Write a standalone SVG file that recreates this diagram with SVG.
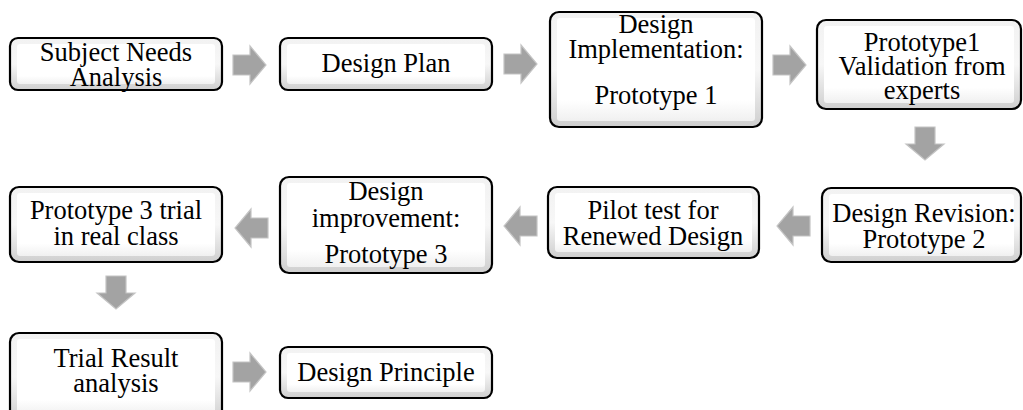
<svg xmlns="http://www.w3.org/2000/svg" width="1023" height="410" viewBox="0 0 1023 410">
<defs>
<linearGradient id="bev" x1="0" y1="0" x2="0" y2="1">
<stop offset="0" stop-color="#f2f2f2"/>
<stop offset="0.5" stop-color="#f7f7f7"/>
<stop offset="1" stop-color="#cfcfcf"/>
</linearGradient>
<linearGradient id="face" x1="0" y1="0" x2="0" y2="1">
<stop offset="0" stop-color="#ffffff"/>
<stop offset="0.8" stop-color="#ffffff"/>
<stop offset="1" stop-color="#f0f0f0"/>
</linearGradient>
<path id="ar" d="M0,-10 H17 V-19 L33,0 L17,19 V10 H0 Z"/>
</defs>
<style>
.frame{fill:url(#bev);stroke:#000;stroke-width:2.2}
.face{fill:url(#face);stroke:none}
.t{font-family:"Liberation Serif","Times New Roman",serif;font-size:26.5px;fill:#000;text-anchor:middle}
.arrow{fill:#a3a3a3;stroke:#c4c4c4;stroke-width:1.2}
</style>
<rect width="1023" height="410" fill="#fff"/>

<g id="connectors">
<use href="#ar" class="arrow" transform="translate(233,65)"/>
<use href="#ar" class="arrow" transform="translate(504,64)"/>
<use href="#ar" class="arrow" transform="translate(773,65)"/>
<use href="#ar" class="arrow" transform="translate(925,127) rotate(90)"/>
<use href="#ar" class="arrow" transform="translate(810,226) rotate(180)"/>
<use href="#ar" class="arrow" transform="translate(537,226) rotate(180)"/>
<use href="#ar" class="arrow" transform="translate(268,228) rotate(180)"/>
<use href="#ar" class="arrow" transform="translate(116,276) rotate(90)"/>
<use href="#ar" class="arrow" transform="translate(233,372)"/>
</g>

<g id="n1">
<rect class="frame" x="10" y="38" width="212" height="52" rx="8"/>
<rect class="face" x="17" y="44" width="198" height="40" rx="3"/>
<text class="t" x="116" y="61">Subject Needs</text>
<text class="t" x="116" y="86">Analysis</text>
</g>
<g id="n2">
<rect class="frame" x="280" y="38" width="212" height="52" rx="8"/>
<rect class="face" x="287" y="44" width="198" height="40" rx="3"/>
<text class="t" x="386" y="72">Design Plan</text>
</g>
<g id="n3">
<rect class="frame" x="550" y="12" width="212" height="115" rx="9"/>
<rect class="face" x="557" y="18" width="198" height="103" rx="3"/>
<text class="t" x="656" y="33">Design</text>
<text class="t" x="656" y="58">Implementation:</text>
<text class="t" x="656" y="104">Prototype 1</text>
</g>
<g id="n4">
<rect class="frame" x="817" y="20" width="204" height="89" rx="9"/>
<rect class="face" x="824" y="26" width="190" height="77" rx="3"/>
<text class="t" x="922" y="51">Prototype1</text>
<text class="t" x="922" y="75">Validation from</text>
<text class="t" x="922" y="99">experts</text>
</g>
<g id="n5">
<rect class="frame" x="822" y="188" width="199" height="74" rx="9"/>
<rect class="face" x="829" y="194" width="185" height="62" rx="3"/>
<text class="t" x="924" y="222">Design Revision:</text>
<text class="t" x="924" y="248">Prototype 2</text>
</g>
<g id="n6">
<rect class="frame" x="548" y="187" width="211" height="71" rx="9"/>
<rect class="face" x="555" y="193" width="197" height="59" rx="3"/>
<text class="t" x="653" y="219">Pilot test for</text>
<text class="t" x="653" y="245">Renewed Design</text>
</g>
<g id="n7">
<rect class="frame" x="280" y="177" width="212" height="96" rx="9"/>
<rect class="face" x="287" y="183" width="198" height="84" rx="3"/>
<text class="t" x="386" y="200">Design</text>
<text class="t" x="386" y="227">improvement:</text>
<text class="t" x="386" y="263">Prototype 3</text>
</g>
<g id="n8">
<rect class="frame" x="10" y="187" width="212" height="75" rx="9"/>
<rect class="face" x="17" y="193" width="198" height="63" rx="3"/>
<text class="t" x="116" y="219">Prototype 3 trial</text>
<text class="t" x="116" y="245">in real class</text>
</g>
<g id="n9">
<rect class="frame" x="10" y="333" width="212" height="88" rx="9"/>
<rect class="face" x="17" y="339" width="198" height="76" rx="3"/>
<text class="t" x="116" y="367">Trial Result</text>
<text class="t" x="116" y="392">analysis</text>
</g>
<g id="n10">
<rect class="frame" x="280" y="347" width="212" height="51" rx="8"/>
<rect class="face" x="287" y="353" width="198" height="39" rx="3"/>
<text class="t" x="386" y="381">Design Principle</text>
</g>
</svg>
